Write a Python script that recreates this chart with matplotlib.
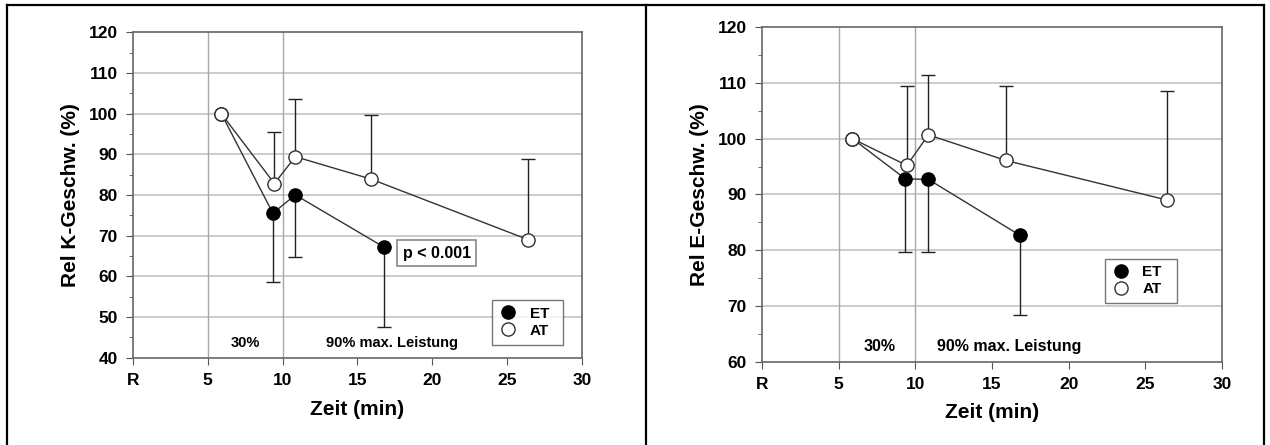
import matplotlib
matplotlib.use("Agg")
import matplotlib.pyplot as plt
from matplotlib.lines import Line2D

plt.rcParams['font.family'] = ['Liberation Sans', 'DejaVu Sans']
plt.rcParams['font.weight'] = 'bold'
plt.rcParams['axes.labelweight'] = 'bold'

# time points (min); R = rest at 0
time_et = [5.9, 9.35, 10.85, 16.8]
time_at = [5.9, 9.45, 10.85, 15.9, 26.4]

# left panel: relative K-speed (%), ET with lower SD, AT with upper SD
k_et = [100, 75.5, 80.0, 67.1]
k_et_sd = [0, 17.0, 15.2, 19.5]
k_at = [100, 82.8, 89.4, 83.9, 69.0]
k_at_sd = [0, 12.7, 14.3, 15.8, 19.9]

# right panel: relative E-speed (%)
e_et = [100, 92.8, 92.7, 82.7]
e_et_sd = [0, 13.1, 13.1, 14.4]
e_at = [100, 95.2, 100.7, 96.1, 89.0]
e_at_sd = [0, 14.3, 10.7, 13.4, 19.6]

xticks = [0, 5, 10, 15, 20, 25, 30]
xticklabels = ['R', '5', '10', '15', '20', '25', '30']

fig = plt.figure(figsize=(12.7, 4.45), dpi=100)

# table-like frame around the two panels
frame = dict(color='black', lw=1.6, transform=fig.transFigure, clip_on=False)
fig.add_artist(Line2D([0.0055, 0.9955], [0.989, 0.989], **frame))
fig.add_artist(Line2D([0.0055, 0.0055], [0.0, 0.989], **frame))
fig.add_artist(Line2D([0.5087, 0.5087], [0.0, 0.989], **frame))
fig.add_artist(Line2D([0.9955, 0.9955], [0.0, 0.989], **frame))


def panel(ax, ylim, yticks, y_et, sd_et, y_at, sd_at, ylabel, txt_y, lead_x,
          legend_box, txt_size, ylab_x, xlab_y):
    ax.set_xlim(0, 30)
    ax.set_ylim(*ylim)
    for y in yticks[1:-1]:
        ax.axhline(y, color='#c4c4c4', lw=1.2, zorder=0)
    for x in (5, 10):
        ax.axvline(x, color='#a8a8a8', lw=1.0, zorder=0)

    # one-sided error bars: ET downwards, AT upwards
    ax.errorbar(time_et[1:], y_et[1:], yerr=[sd_et[1:], [0] * (len(sd_et) - 1)],
                fmt='none', ecolor='#222222', elinewidth=1, capsize=5, capthick=1, zorder=2)
    ax.errorbar(time_at[1:], y_at[1:], yerr=[[0] * (len(sd_at) - 1), sd_at[1:]],
                fmt='none', ecolor='#222222', elinewidth=1, capsize=5, capthick=1, zorder=2)

    ax.plot(time_et, y_et, color='#333333', lw=1, marker='o', ms=9.5,
            mfc='black', mec='black', zorder=3)
    ax.plot(time_at, y_at, color='#333333', lw=1, marker='o', ms=9.5,
            mfc='white', mec='#333333', mew=1, zorder=4)

    ax.text(lead_x[0], txt_y, '30%', ha='center', va='center', fontsize=txt_size)
    ax.text(lead_x[1], txt_y, '90% max. Leistung', ha='center', va='center', fontsize=txt_size)

    ax.set_xticks(xticks)
    ax.set_xticklabels(xticklabels)
    ax.set_yticks(yticks)
    ax.set_yticks([v + 5 for v in yticks[:-1]], minor=True)
    ax.tick_params(axis='both', which='major', direction='out', length=5,
                   color='#555555', labelsize=12.5, pad=6)
    ax.tick_params(axis='y', which='minor', direction='out', length=3, color='#555555')
    for s in ax.spines.values():
        s.set_color('#666666')
        s.set_linewidth(1.2)

    ax.set_xlabel('Zeit (min)', fontsize=15)
    ax.set_ylabel(ylabel, fontsize=15)
    ax.yaxis.set_label_coords(ylab_x, 0.5)
    ax.xaxis.set_label_coords(0.5, xlab_y)

    handles = [Line2D([], [], ls='none', marker='o', ms=9.5, mfc='black', mec='black'),
               Line2D([], [], ls='none', marker='o', ms=9.5, mfc='white', mec='#333333')]
    leg = ax.legend(handles, ['ET', 'AT'], loc='lower left', bbox_to_anchor=legend_box,
                    mode='expand', fontsize=11, frameon=True, fancybox=False,
                    handletextpad=0.8, borderpad=0.45, labelspacing=0.2, handlelength=1.2,
                    borderaxespad=0)
    leg.get_frame().set_edgecolor('#555555')
    leg.get_frame().set_linewidth(1.0)


ax1 = fig.add_axes([0.1047, 0.1966, 0.3535, 0.7308])
panel(ax1, (40, 120), [40, 50, 60, 70, 80, 90, 100, 110, 120],
      k_et, k_et_sd, k_at, k_at_sd, 'Rel K-Geschw. (%)', 43.5, (7.5, 17.3),
      (0.80, 0.04, 0.158, 0.147), 10.5, -0.118, -0.13)
ax1.text(20.3, 65.7, 'p < 0.001', ha='center', va='center', fontsize=11.5,
         bbox=dict(boxstyle='square,pad=0.35', fc='white', ec='#888888', lw=1.2))

ax2 = fig.add_axes([0.6, 0.1876, 0.3622, 0.751])
panel(ax2, (60, 120), [60, 70, 80, 90, 100, 110, 120],
      e_et, e_et_sd, e_at, e_at_sd, 'Rel E-Geschw. (%)', 62.7, (7.7, 16.1),
      (0.745, 0.174, 0.158, 0.145), 11.5, -0.115, -0.125)

fig.savefig('out.png', dpi=100)
